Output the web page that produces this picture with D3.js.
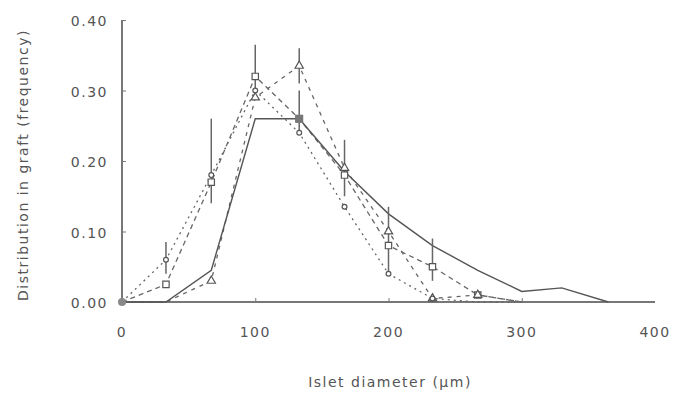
<!DOCTYPE html>
<html>
<head>
<meta charset="utf-8">
<script src="https://cdn.jsdelivr.net/npm/d3@7"></script>
<style>
  body { margin: 0; background: #fff; }
  text { font-family: "DejaVu Sans", sans-serif; fill: #555; letter-spacing: 1.5px; }
</style>
</head>
<body>
<svg id="chart" width="681" height="393"></svg>
<script>
// bin centres (µm)
const diameters = [0, 33, 67, 100, 133, 167, 200, 233, 267, 300];

// series values (frequency)
const solidVals    = [0, 0, 0.045, 0.26, 0.26, 0.185, 0.125, 0.08, 0.045, 0.015];
const solidTailX   = [330, 365];
const solidTailY   = [0.02, 0];
const squareVals   = [0, 0.025, 0.17, 0.32, 0.26, 0.18, 0.08, 0.05, 0.01, 0];
const triangleVals = [0, 0, 0.03, 0.29, 0.335, 0.19, 0.10, 0.005, 0.01, 0];
const circleVals   = [0, 0.06, 0.18, 0.30, 0.24, 0.135, 0.04, 0.005, 0, 0];

// error bars [diameter, low, high]
const squareErr   = [[67, 0.14, 0.26], [100, 0.29, 0.365], [167, 0.15, 0.23], [200, 0.04, 0.135], [233, 0.03, 0.09]];
const triangleErr = [[133, 0.31, 0.36]];
const circleErr   = [[33, 0.04, 0.085]];
const solidErr    = [[133, 0.24, 0.30]];

const xTicks = [0, 100, 200, 300, 400];
const yTicks = [0, 0.1, 0.2, 0.3, 0.4];

const svg = d3.select("#chart");
const x = d3.scaleLinear().domain([0, 400]).range([122, 655]);
const y = d3.scaleLinear().domain([0, 0.4]).range([302, 20]);

const axisColor = "#777";

// axes
const yAxis = svg.append("g").attr("transform", `translate(${x(0)},0)`)
  .call(d3.axisRight(y).tickValues(yTicks).tickSize(4).tickFormat(""));
const xAxis = svg.append("g").attr("transform", `translate(0,${y(0)})`)
  .call(d3.axisTop(x).tickValues(xTicks.slice(1, 4)).tickSize(4).tickFormat(""));
[xAxis, yAxis].forEach(a => {
  a.select(".domain").attr("stroke", axisColor).attr("stroke-width", 2);
  a.selectAll(".tick line").attr("stroke", axisColor);
});
xAxis.select(".domain").attr("d", `M${x(0)},0H${x(400)}`);
yAxis.select(".domain").attr("d", `M0,${y(0)}V${y(0.4)}`);

svg.selectAll(".ylab").data(yTicks).enter().append("text")
  .attr("x", 108).attr("y", d => y(d) + 6)
  .attr("text-anchor", "end").attr("font-size", 14)
  .text(d => d3.format(".2f")(d));

svg.selectAll(".xlab").data(xTicks).enter().append("text")
  .attr("x", d => x(d)).attr("y", 337)
  .attr("text-anchor", "middle").attr("font-size", 14)
  .text(d => d);

svg.append("text").attr("x", 390).attr("y", 387)
  .attr("text-anchor", "middle").attr("font-size", 14)
  .text("Islet diameter (µm)");

svg.append("text").attr("transform", "translate(28,165) rotate(-90)")
  .attr("text-anchor", "middle").attr("font-size", 14)
  .text("Distribution in graft (frequency)");

// lines
const line = d3.line().x(d => x(d[0])).y(d => y(d[1]));
const zip = vals => diameters.map((d, i) => [d, vals[i]]);

const series = [
  { vals: squareVals,   dash: "5,4", marker: "square" },
  { vals: triangleVals, dash: "4,5", marker: "triangle" },
  { vals: circleVals,   dash: "2,4", marker: "circle" }
];

const plot = svg.append("g");

series.forEach(s => {
  plot.append("path").datum(zip(s.vals))
    .attr("d", line).attr("fill", "none")
    .attr("stroke", "#666").attr("stroke-width", 1.3)
    .attr("stroke-dasharray", s.dash);
});

const solidPts = zip(solidVals).concat(solidTailX.map((d, i) => [d, solidTailY[i]]));
plot.append("path").datum(solidPts)
  .attr("d", line).attr("fill", "none")
  .attr("stroke", "#555").attr("stroke-width", 1.4);

// error bars
const errs = squareErr.concat(triangleErr, circleErr, solidErr);
plot.selectAll(".err").data(errs).enter().append("line")
  .attr("x1", d => x(d[0])).attr("x2", d => x(d[0]))
  .attr("y1", d => y(d[1])).attr("y2", d => y(d[2]))
  .attr("stroke", "#666").attr("stroke-width", 1.5);

// markers
const sym = {
  square: d3.symbol().type(d3.symbolSquare).size(40),
  triangle: d3.symbol().type(d3.symbolTriangle).size(30),
  circle: d3.symbol().type(d3.symbolCircle).size(18)
};
series.forEach(s => {
  plot.selectAll(null).data(zip(s.vals).filter(d => d[1] > 0)).enter().append("path")
    .attr("transform", d => `translate(${x(d[0])},${y(d[1])})`)
    .attr("d", sym[s.marker]()).attr("fill", "#fff")
    .attr("stroke", "#555").attr("stroke-width", 1.2);
});
plot.selectAll(null).data(solidErr).enter().append("rect")
  .attr("x", d => x(d[0]) - 4).attr("y", d => y(solidVals[diameters.indexOf(d[0])]) - 4)
  .attr("width", 8).attr("height", 8).attr("fill", "#777");

// cluster of markers at origin
plot.append("circle").attr("cx", x(0)).attr("cy", y(0)).attr("r", 4).attr("fill", "#888");
</script>
</body>
</html>
